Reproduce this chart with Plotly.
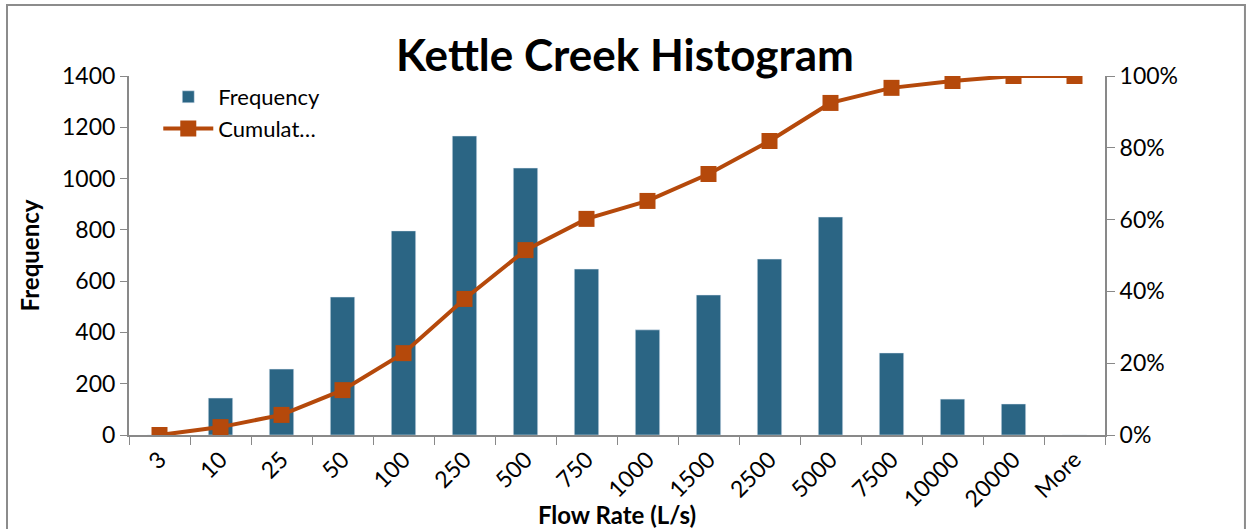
import plotly.graph_objects as go

# --- Data ---
bins = ["3", "10", "25", "50", "100", "250", "500", "750", "1000",
        "1500", "2500", "5000", "7500", "10000", "20000", "More"]
frequency = [0, 144, 257, 538, 796, 1166, 1041, 647, 410,
             546, 686, 850, 320, 140, 121, 0]
cumulative = [0.0, 0.022, 0.056, 0.125, 0.228, 0.379, 0.515, 0.602, 0.652,
              0.727, 0.819, 0.925, 0.967, 0.986, 1.0, 1.0]

BAR = "#2B6584"
LINE = "#B5490B"
AXIS = "#898989"
FONT = "Lato"

fig = go.Figure()
fig.add_trace(go.Bar(x=bins, y=frequency, name="Frequency", marker_color=BAR, yaxis="y"))
fig.add_trace(go.Scatter(
    x=bins, y=cumulative, name="Cumulat…", yaxis="y2",
    mode="lines+markers",
    line=dict(color=LINE, width=4),
    marker=dict(symbol="square", size=16, color=LINE),
))

fig.update_layout(
    width=1250, height=529,
    margin=dict(l=129, r=145, t=76, b=94, autoexpand=False),
    paper_bgcolor="white", plot_bgcolor="white",
    font=dict(family=FONT, size=23, color="black"),
    bargap=0.6,
    showlegend=True,
    title=dict(text="<b>Kettle Creek Histogram</b>", x=0.5, xanchor="center",
               y=0.895, yanchor="middle", font=dict(size=44, color="black")),
    legend=dict(x=0.03, y=1.0, xanchor="left", yanchor="top",
                bgcolor="rgba(0,0,0,0)", font=dict(size=22),
                tracegroupgap=0, itemwidth=50),
    xaxis=dict(type="category", range=[-0.5, 15.5], tickangle=-45, tickson="boundaries",
               ticks="outside", ticklen=8, tickcolor=AXIS,
               showline=True, linecolor=AXIS, linewidth=2,
               showgrid=False,
               title=dict(text="<b>Flow Rate (L/s)</b>", font=dict(size=24), standoff=0)),
    yaxis=dict(range=[0, 1400], dtick=200, ticks="outside", ticklen=7, tickcolor=AXIS,
               showline=True, linecolor=AXIS, linewidth=2, showgrid=False, zeroline=False,
               title=dict(text="<b>Frequency</b>", font=dict(size=24), standoff=16)),
    yaxis2=dict(range=[0, 1], dtick=0.2, tickformat=".0%", overlaying="y", side="right",
                ticks="outside", ticklen=8, tickcolor=AXIS,
                showline=True, linecolor=AXIS, linewidth=2, showgrid=False, zeroline=False),
)

# outer chart border
fig.add_shape(type="rect", xref="paper", yref="paper",
              x0=-0.125, x1=1.1434, y0=-0.4, y1=1.198,
              line=dict(color="#8C8C8C", width=2), fillcolor="rgba(0,0,0,0)", layer="below")

# page body has a default 8px margin; drop it so the figure sits at the corner
fig.write_html("out.html", config={"displayModeBar": False},
               post_script="document.body.style.margin='0';")
